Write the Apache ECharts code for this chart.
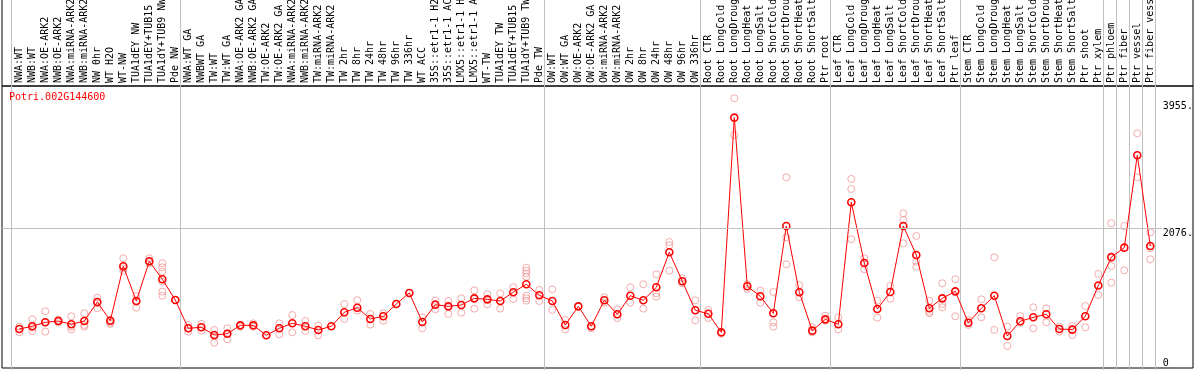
<!DOCTYPE html>
<html><head><meta charset="utf-8">
<script src="https://cdn.jsdelivr.net/npm/echarts@6/dist/echarts.min.js"></script>
<style>html,body{margin:0;padding:0;background:#fff}#c{width:1194px;height:370px}</style>
</head><body><div id="c"></div>
<script>
const geneId = 'Potri.002G144600';

const categories = [
  'NWA:WT','NWB:WT','NWA:OE-ARK2','NWB:OE-ARK2','NWA:miRNA-ARK2','NWB:miRNA-ARK2','NW 0hr','WT H2O','WT-NW','TUA1dEY NW','TUA1dEY+TUB15','TUA1dY+TUB9 NW','Pde NW',
  'NWA:WT GA','NWBWT GA','TW:WT','TW:WT GA','NWA:OE-ARK2 GA','NWB:OE-ARK2 GA','TW:OE-ARK2','TW:OE-ARK2 GA','NWA:miRNA-ARK2','NWB:miRNA-ARK2','TW:miRNA-ARK2','TW:miRNA-ARK2',
  'TW 2hr','TW 8hr','TW 24hr','TW 48hr','TW 96hr','TW 336hr','WT ACC','35S::etr1-1 H2O','35S::etr1-1 ACC','LMX5::etr1-1 H2O','LMX5::etr1-1 ACC','WT-TW','TUA1dEY TW','TUA1dEY+TUB15','TUA1dY+TUB9 TW','Pde TW',
  'OW:WT','OW:WT GA','OW:OE-ARK2','OW:OE-ARK2 GA','OW:miRNA-ARK2','OW:miRNA-ARK2','OW 2hr','OW 8hr','OW 24hr','OW 48hr','OW 96hr','OW 336hr',
  'Root CTR','Root LongCold','Root LongDrought','Root LongHeat','Root LongSalt','Root ShortCold','Root ShortDrought','Root ShortHeat','Root ShortSalt','Ptr root',
  'Leaf CTR','Leaf LongCold','Leaf LongDrought','Leaf LongHeat','Leaf LongSalt','Leaf ShortCold','Leaf ShortDrought','Leaf ShortHeat','Leaf ShortSalt','Ptr leaf',
  'Stem CTR','Stem LongCold','Stem LongDrought','Stem LongHeat','Stem LongSalt','Stem ShortCold','Stem ShortDrought','Stem ShortHeat','Stem ShortSalt','Ptr shoot','Ptr xylem',
  'Ptr phloem','Ptr fiber','Ptr vessel','Ptr fiber vessel'
];

const means = [
  580,620,679,698,649,698,981,703,1511,996,1585,1318,1010,
  590,605,490,510,634,634,486,590,664,620,565,620,828,896,728,768,951,1115,684,941,916,936,1035,1020,996,1125,1244,1080,
  996,639,916,620,1006,798,1074,1006,1199,1719,1288,857,
  807,530,3720,1214,1065,813,2110,1125,555,723,
  649,2462,1560,877,1129,2110,1679,887,1035,1139,
  673,887,1074,476,694,753,798,580,570,770,1226,
  1647,1788,3161,1813
];

const replicates = [
  [614,530,580],[723,550,600],[842,540,679],[720,680,698],[768,575,614],[813,639,614],[1045,887,961],[713,654,673],[1630,1441,1481],[1070,896,985],[1630,1580,1556],[1556,1496,1431,1282,1134,1074],[1010],
  [639,540,590],[654,555,605],[565,376,465],[590,426,515],[640,614],[664,614],[486],[664,500],[788,530],[698,550],[629,486],[620],[951,728],[1006,852],[803,644],[813,703],[951],[1115],[753,590],[1000,872],[996,803],[1035,823],[1154,882],[1095,946],[1110,882],[1199,1025],[1491,1446,1407,1357,1074,1035,1000],[1159,996],
  [1169,862],[713,575],[916],[620,590],[1050,970],[872,743],[1199,970],[1244,882],[1392,1110,1060],[1872,1823,1446],[1333,1259],[1006,709],
  [862,743],[530,510],[4008,3462],[1244,1174],[1149,970],[1129,679,614],[2834,1942,1541],[1233,1050],[605,530],[777,703],
  [753,575],[2809,2660,1913],[1630,1467],[1000,748],[1219,1030],[2299,2199,1853],[1962,1580,1506],[1000,837,813],[1259,951,902],[1318,768],
  [713,639],[1020,753],[1645,565],[614,327],[773,673],[902,590],[887,679],[614,540],[624,490],[921,605],[1397,1085],
  [2150,1516,1268],[2110,1452],[3487,2834],[2016,1779,1615]
];

const groupStarts = [0, 13, 41, 53, 63, 73, 84, 85, 86, 87];
const yTickValues = [0, 2076, 3955];
const refLineValue = 2076;
const yMax = 4190;

const FONT = 'DejaVu Sans Mono';
const scatterData = [];
replicates.forEach((arr, i) => arr.forEach(v => scatterData.push([i, v])));

const chart = echarts.init(document.getElementById('c'), null, {renderer: 'canvas'});
const hiddenX = (g) => ({gridIndex: g, type: 'value', min: 0, max: 1, show: false});
const hiddenY = (g) => ({gridIndex: g, type: 'value', min: 0, max: yMax, show: false});
const G = {outerBoundsMode: 'none', containLabel: false};

chart.setOption({
  animation: false,
  backgroundColor: '#fff',
  title: {
    text: geneId, left: 9, top: 92, padding: 0,
    textStyle: {fontFamily: FONT, fontSize: 10, color: '#ff0000', fontWeight: 'normal'}
  },
  grid: [
    Object.assign({left: 12.8, right: 37.2, top: 86, bottom: 2}, G),
    Object.assign({left: 11, right: 39, top: 0, bottom: 0}, G),
    Object.assign({left: 2, right: 32, top: 86, bottom: 2}, G),
    Object.assign({left: 2, right: 1, top: 86, bottom: 2, show: true, borderColor: '#000', borderWidth: 1, backgroundColor: 'transparent'}, G),
    Object.assign({left: 2, right: 1, top: -1, bottom: 284, show: true, borderColor: '#000', borderWidth: 1, backgroundColor: 'transparent'}, G)
  ],
  xAxis: [
    {
      gridIndex: 0, type: 'category', data: categories, position: 'top', boundaryGap: true,
      axisLine: {show: false, onZero: false}, axisTick: {show: false}, splitLine: {show: false},
      axisLabel: {interval: 0, rotate: -90, margin: 3, fontFamily: FONT, fontSize: 10, color: '#000', hideOverlap: false}
    },
    {
      gridIndex: 1, type: 'category', data: categories, boundaryGap: true,
      axisLine: {show: false}, axisTick: {show: false}, axisLabel: {show: false},
      splitLine: {show: true, interval: (idx) => groupStarts.indexOf(idx) >= 0, lineStyle: {color: '#c0c0c0', width: 1}}
    },
    hiddenX(2), hiddenX(3), hiddenX(4)
  ],
  yAxis: [
    {
      gridIndex: 0, type: 'value', min: 0, max: yMax, position: 'right',
      axisLine: {show: false}, axisTick: {show: false}, splitLine: {show: false},
      axisLabel: {
        customValues: yTickValues, margin: 6, align: 'left',
        fontFamily: FONT, fontSize: 10, color: '#000',
        formatter: (v) => v === 0 ? '{z|0}' : '{t|' + v + '.}',
        rich: {
          z: {fontFamily: FONT, fontSize: 10, color: '#000', padding: [0, 0, 10, 0]},
          t: {fontFamily: FONT, fontSize: 10, color: '#000', padding: [10, 0, 0, 0]}
        }
      }
    },
    {gridIndex: 1, type: 'value', show: false},
    hiddenY(2), hiddenY(3), hiddenY(4)
  ],
  series: [
    {
      type: 'scatter', xAxisIndex: 0, yAxisIndex: 0, data: scatterData,
      symbol: 'circle', symbolSize: 7, silent: true, z: 2,
      itemStyle: {color: 'rgba(0,0,0,0)', borderColor: '#f09696', borderWidth: 1}
    },
    {
      type: 'line', xAxisIndex: 0, yAxisIndex: 0, data: means,
      symbol: 'circle', symbolSize: 7, showAllSymbol: true, silent: true, z: 3,
      lineStyle: {color: '#ff0000', width: 1},
      itemStyle: {color: 'rgba(0,0,0,0)', borderColor: '#ff0000', borderWidth: 1.6}
    },
    {
      type: 'line', xAxisIndex: 2, yAxisIndex: 2, data: [], silent: true,
      markLine: {
        silent: true, symbol: 'none', label: {show: false},
        lineStyle: {color: '#c0c0c0', type: 'solid', width: 1},
        data: [{yAxis: refLineValue}]
      }
    }
  ]
});
</script>
</body></html>
